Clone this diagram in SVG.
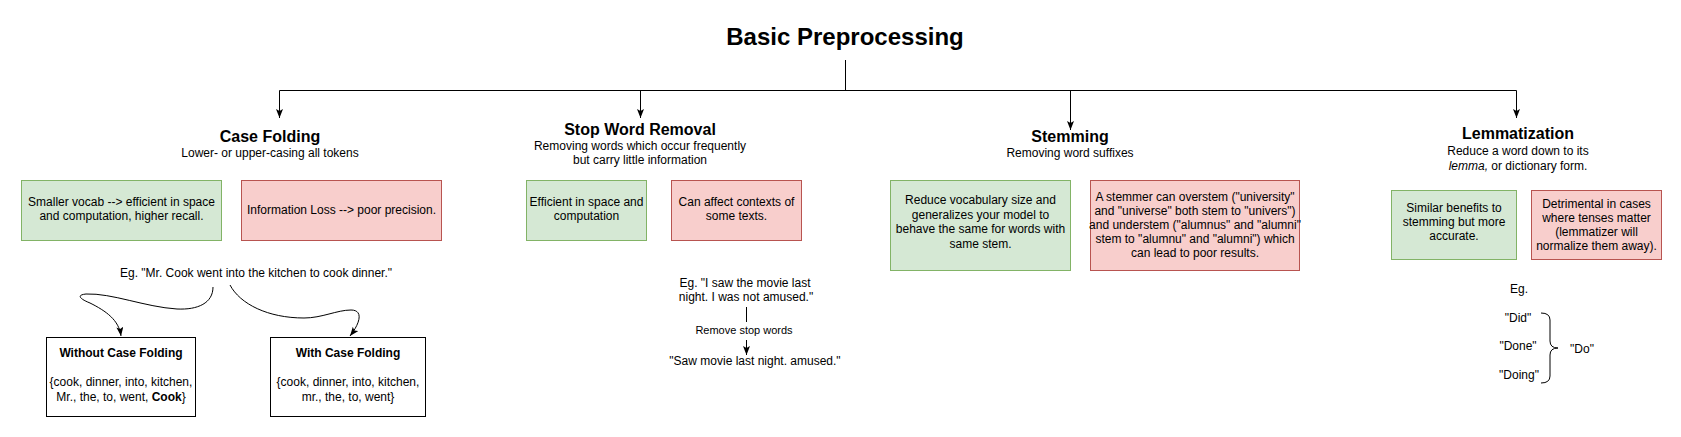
<svg xmlns="http://www.w3.org/2000/svg" width="1681" height="437" viewBox="0 0 1681 437">
<defs>
<marker id="arr" markerWidth="10" markerHeight="8" refX="9" refY="3.5" orient="auto" markerUnits="userSpaceOnUse">
<path d="M0,0 L9,3.5 L0,7 L2,3.5 Z" fill="#000"/>
</marker>
<style>
text{font-family:"Liberation Sans",Arial,Helvetica,sans-serif;fill:#000;text-anchor:middle}
.t{font-size:16px;font-weight:bold}
.s{font-size:12px}
.sm{font-size:11px}
.b{font-weight:bold}
.g{fill:#d5e8d4;stroke:#82b366;stroke-width:1}
.r{fill:#f8cecc;stroke:#b85450;stroke-width:1}
.w{fill:#fff;stroke:#000;stroke-width:1}
.c{fill:none;stroke:#000;stroke-width:1}
</style>
</defs>
<rect width="1681" height="437" fill="#fff"/>

<g id="title"><text x="845" y="45" style="font-size:24px;font-weight:bold">Basic Preprocessing</text></g>

<g id="connectors">
<path class="c" d="M845.5,60 V90.5"/>
<path class="c" d="M279.5,90.5 H1516.5"/>
<path class="c" d="M279.5,90.5 V118" marker-end="url(#arr)"/>
<path class="c" d="M640.5,90.5 V118" marker-end="url(#arr)"/>
<path class="c" d="M1070.5,90.5 V130" marker-end="url(#arr)"/>
<path class="c" d="M1516.5,90.5 V118" marker-end="url(#arr)"/>
<path class="c" d="M213,287 C213,303 198,310 177,309 C145,307 112,293 86,294 C76,295 80,299 90,303 C106,311 119,320 121,336" marker-end="url(#arr)"/>
<path class="c" d="M230,285 C240,304 268,318 304,318 C322,318 337,310 351,310 C363,310 361,322 350,336" marker-end="url(#arr)"/>
<path class="c" d="M746.5,307 V322"/>
<path class="c" d="M746.5,340 V355" marker-end="url(#arr)"/>
<path class="c" d="M1541,313 Q1550,313 1550,320 L1550,341 Q1550,348 1558,348 Q1550,348 1550,355 L1550,376 Q1550,383 1541,383"/>
</g>

<g id="case-folding">
<text class="t" x="270" y="142">Case Folding</text>
<text class="s" x="270" y="157">Lower- or upper-casing all tokens</text>
</g>
<g id="cf-pro">
<rect class="g" x="21.5" y="180.5" width="200" height="60"/>
<text class="s" x="121.5" y="206">Smaller vocab --&gt; efficient in space</text>
<text class="s" x="121.5" y="220">and computation, higher recall.</text>
</g>
<g id="cf-con">
<rect class="r" x="241.5" y="180.5" width="200" height="60"/>
<text class="s" x="341.5" y="214">Information Loss --&gt; poor precision.</text>
</g>
<g id="cf-example">
<text class="s" x="256" y="277">Eg. "Mr. Cook went into the kitchen to cook dinner."</text>
</g>
<g id="cf-without">
<rect class="w" x="46.5" y="337.5" width="149" height="79"/>
<text class="s b" x="121" y="357">Without Case Folding</text>
<text class="s" x="121" y="386">{cook, dinner, into, kitchen,</text>
<text class="s" x="121" y="401">Mr., the, to, went, <tspan class="b">Cook</tspan>}</text>
</g>
<g id="cf-with">
<rect class="w" x="270.5" y="337.5" width="155" height="79"/>
<text class="s b" x="348" y="357">With Case Folding</text>
<text class="s" x="348" y="386">{cook, dinner, into, kitchen,</text>
<text class="s" x="348" y="401">mr., the, to, went}</text>
</g>

<g id="stop-word-removal">
<text class="t" x="640" y="135">Stop Word Removal</text>
<text class="s" x="640" y="150">Removing words which occur frequently</text>
<text class="s" x="640" y="164">but carry little information</text>
</g>
<g id="sw-pro">
<rect class="g" x="526.5" y="180.5" width="120" height="60"/>
<text class="s" x="586.5" y="206">Efficient in space and</text>
<text class="s" x="586.5" y="220">computation</text>
</g>
<g id="sw-con">
<rect class="r" x="671.5" y="180.5" width="130" height="60"/>
<text class="s" x="736.5" y="206">Can affect contexts of</text>
<text class="s" x="736.5" y="220">some texts.</text>
</g>
<g id="sw-example">
<text class="s" x="745" y="287">Eg. "I saw the movie last</text>
<text class="s" x="746" y="301">night. I was not amused."</text>
</g>
<g id="sw-label"><text class="sm" x="744" y="334">Remove stop words</text></g>
<g id="sw-result"><text class="s" x="755" y="365">"Saw movie last night. amused."</text></g>

<g id="stemming">
<text class="t" x="1070" y="142">Stemming</text>
<text class="s" x="1070" y="157">Removing word suffixes</text>
</g>
<g id="st-pro">
<rect class="g" x="890.5" y="180.5" width="180" height="90"/>
<text class="s" x="980.5" y="204">Reduce vocabulary size and</text>
<text class="s" x="980.5" y="218.5">generalizes your model to</text>
<text class="s" x="980.5" y="233">behave the same for words with</text>
<text class="s" x="980.5" y="247.5">same stem.</text>
</g>
<g id="st-con">
<rect class="r" x="1090.5" y="180.5" width="209" height="90"/>
<text class="s" x="1195" y="201">A stemmer can overstem ("university"</text>
<text class="s" x="1195" y="215">and "universe" both stem to "univers")</text>
<text class="s" x="1195" y="229">and understem ("alumnus" and "alumni"</text>
<text class="s" x="1195" y="243">stem to "alumnu" and "alumni") which</text>
<text class="s" x="1195" y="257">can lead to poor results.</text>
</g>

<g id="lemmatization">
<text class="t" x="1518" y="139">Lemmatization</text>
<text class="s" x="1518" y="155">Reduce a word down to its</text>
<text class="s" x="1518" y="170"><tspan font-style="italic">lemma,</tspan> or dictionary form.</text>
</g>
<g id="lm-pro">
<rect class="g" x="1391.5" y="190.5" width="125" height="69"/>
<text class="s" x="1454" y="212">Similar benefits to</text>
<text class="s" x="1454" y="226">stemming but more</text>
<text class="s" x="1454" y="240">accurate.</text>
</g>
<g id="lm-con">
<rect class="r" x="1531.5" y="190.5" width="130" height="69"/>
<text class="s" x="1596.5" y="208">Detrimental in cases</text>
<text class="s" x="1596.5" y="222">where tenses matter</text>
<text class="s" x="1596.5" y="236">(lemmatizer will</text>
<text class="s" x="1596.5" y="250">normalize them away).</text>
</g>
<g id="lm-example">
<text class="s" x="1519" y="293">Eg.</text>
<text class="s" x="1518" y="322">"Did"</text>
<text class="s" x="1518" y="350">"Done"</text>
<text class="s" x="1519" y="379">"Doing"</text>
<text class="s" x="1582" y="353">"Do"</text>
</g>
</svg>
